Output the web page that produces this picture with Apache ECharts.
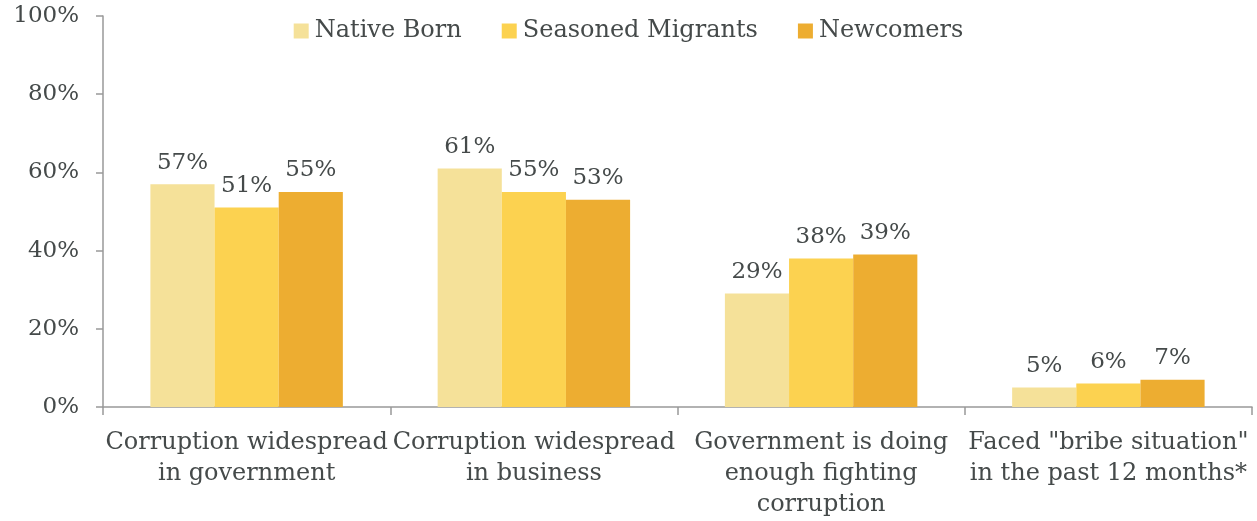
<!DOCTYPE html>
<html>
<head>
<meta charset="utf-8">
<script src="https://cdn.jsdelivr.net/npm/echarts@6/dist/echarts.min.js"></script>
<style>
  html, body { margin: 0; padding: 0; background: #fff; }
  #chart { width: 1257px; height: 521px; }
</style>
</head>
<body>
<div id="chart"></div>
<script>
// Survey categories (x axis)
const categories = [
  'Corruption widespread\nin government',
  'Corruption widespread\nin business',
  'Government is doing\nenough fighting\ncorruption',
  'Faced "bribe situation"\nin the past 12 months*'
];
// Share of respondents, in percent
const nativeBorn = [57, 61, 29, 5];
const seasonedMigrants = [51, 55, 38, 6];
const newcomers = [55, 53, 39, 7];
const seriesNames = ['Native Born', 'Seasoned Migrants', 'Newcomers'];
const yTicks = [0, 20, 40, 60, 80, 100];

const FONT = 'DejaVu Serif';
const TEXT = '#454a4a';
const AXIS = '#999999';
const colors = ['#F5E199', '#FCD250', '#EDAD31'];

const chart = echarts.init(document.getElementById('chart'));

function barSeries(name, data, color) {
  return {
    name: name,
    type: 'bar',
    data: data,
    barGap: '0%',
    barCategoryGap: '33%',
    itemStyle: { color: color },
    label: {
      show: true,
      position: 'top',
      distance: 10,
      formatter: p => p.value + '%',
      fontFamily: FONT,
      fontSize: 23,
      color: TEXT
    }
  };
}

chart.setOption({
  animation: false,
  color: colors,
  grid: { left: 103, right: 5, top: 16, bottom: 114 },
  legend: {
    top: 14,
    left: 'center',
    itemWidth: 15,
    itemHeight: 15,
    itemGap: 40,
    icon: 'rect',
    textStyle: { fontFamily: FONT, fontSize: 24, color: TEXT, padding: [0, 0, 0, 1] },
    data: seriesNames
  },
  xAxis: {
    type: 'category',
    data: categories,
    axisLine: { lineStyle: { color: AXIS, width: 1.5 } },
    axisTick: { show: true, length: 8, alignWithLabel: false, lineStyle: { color: AXIS, width: 1.5 } },
    axisLabel: {
      interval: 0,
      margin: 20,
      fontFamily: FONT,
      fontSize: 24,
      lineHeight: 31,
      color: TEXT
    }
  },
  yAxis: {
    type: 'value',
    min: yTicks[0],
    max: yTicks[yTicks.length - 1],
    interval: yTicks[1] - yTicks[0],
    axisLine: { show: true, lineStyle: { color: AXIS, width: 1.5 } },
    axisTick: { show: true, length: 7, lineStyle: { color: AXIS, width: 1.5 } },
    splitLine: { show: false },
    axisLabel: {
      margin: 24,
      fontFamily: FONT,
      fontSize: 23,
      color: TEXT,
      formatter: v => v + '%'
    }
  },
  series: [
    barSeries(seriesNames[0], nativeBorn, colors[0]),
    barSeries(seriesNames[1], seasonedMigrants, colors[1]),
    barSeries(seriesNames[2], newcomers, colors[2])
  ]
});
</script>
</body>
</html>
